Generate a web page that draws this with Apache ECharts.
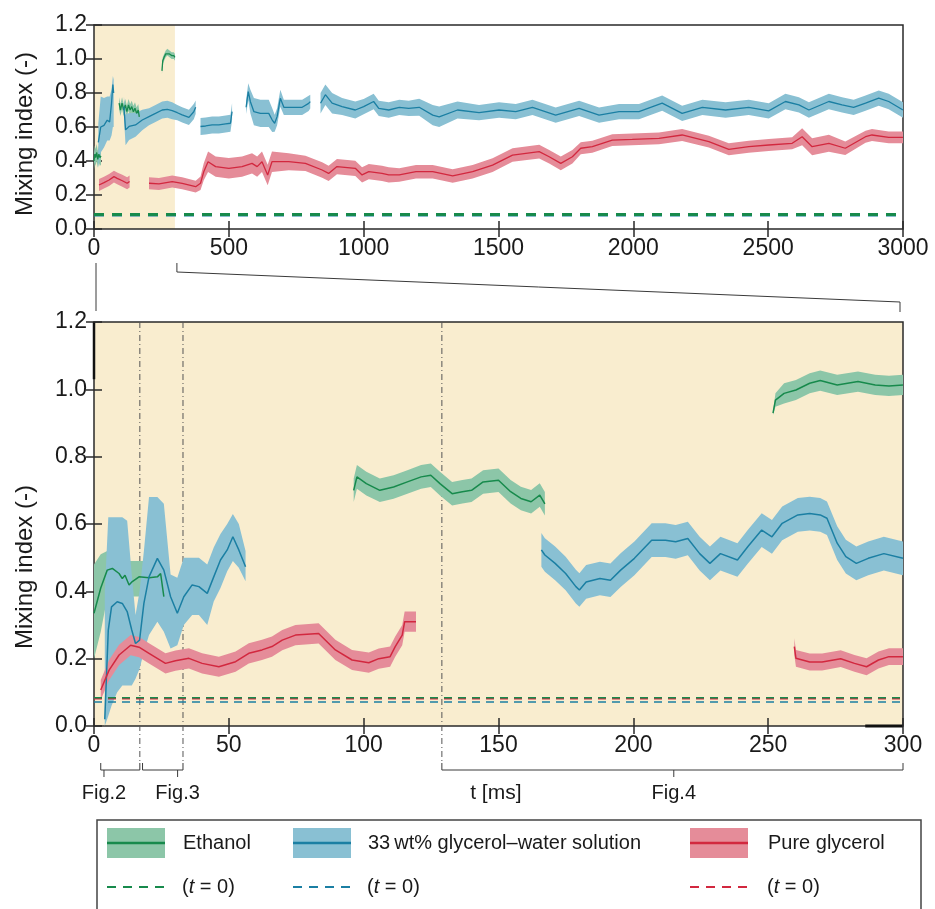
<!DOCTYPE html>
<html><head><meta charset="utf-8">
<script src="https://cdn.jsdelivr.net/npm/echarts@6/dist/echarts.min.js"></script>
<style>html,body{margin:0;padding:0;background:#fff}#c{width:935px;height:909px}</style>
</head><body><div id="c"></div><script>
// ---------------- DATA ----------------
// Axis ranges / ticks
const TOP_X = [0, 3000, 500];
const BOT_X = [0, 300, 50];
const Y_RANGE = [0, 1.2, 0.2];
const SHADE_TOP = [0, 300];
const SHADE_BOT = [0, 300];
// t = 0 reference values
const T0_ETH = 0.085, T0_GLY = 0.083, T0_PURE = 0.085;
const T0_ETH_Z = 0.084, T0_GLY_Z = 0.071, T0_PURE_Z = 0.081;

// ---- Top chart (0-3000 ms) ----
const topEthA_T = [0, 3, 6, 10, 14, 18, 22, 26];
const topEthA_M = [0.40, 0.44, 0.42, 0.45, 0.41, 0.44, 0.42, 0.43];
const topEthA_W = 0.05;
const topEthB_T = [93, 98, 104, 110, 116, 122, 128, 134, 140, 146, 152, 158, 164, 168];
const topEthB_M = [0.74, 0.70, 0.74, 0.70, 0.73, 0.69, 0.73, 0.70, 0.72, 0.69, 0.71, 0.68, 0.70, 0.66];
const topEthB_W = 0.035;
const topEthC_T = [252, 255, 260, 266, 272, 280, 288, 296, 300];
const topEthC_M = [0.93, 0.99, 1.01, 1.03, 1.04, 1.03, 1.02, 1.02, 1.01];
const topEthC_W = 0.02;

const topGlyA_T = [16, 25, 37, 49, 58, 65, 70, 73];
const topGlyA_M = [0.51, 0.60, 0.61, 0.64, 0.63, 0.74, 0.85, 0.80];
const topGlyA_LO = [0.36, 0.45, 0.48, 0.52, 0.52, 0.55, 0.60, 0.60];
const topGlyA_HI = [0.62, 0.78, 0.77, 0.78, 0.78, 0.82, 0.90, 0.88];
const topGlyB_T = [111, 117, 130, 154, 179, 204, 228, 253, 272, 290, 309, 327, 352, 370, 377];
const topGlyB_M = [0.72, 0.583, 0.603, 0.612, 0.641, 0.661, 0.68, 0.70, 0.704, 0.696, 0.684, 0.671, 0.657, 0.69, 0.716];
const topGlyB_W = [0.06, 0.09, 0.08, 0.07, 0.06, 0.05, 0.05, 0.05, 0.05, 0.05, 0.045, 0.045, 0.045, 0.045, 0.04];
const topGlyC_T = [395, 414, 438, 463, 488, 506, 512];
const topGlyC_M = [0.603, 0.606, 0.612, 0.612, 0.618, 0.622, 0.69];
const topGlyC_W = 0.05;
const topGlyD_T = [564, 572, 580, 593, 617, 648, 661, 670, 679, 691, 704, 735, 772, 796, 802];
const topGlyD_M = [0.716, 0.808, 0.749, 0.69, 0.68, 0.68, 0.641, 0.622, 0.661, 0.769, 0.716, 0.716, 0.716, 0.739, 0.749];
const topGlyD_W = [0.04, 0.05, 0.07, 0.08, 0.08, 0.08, 0.07, 0.05, 0.05, 0.05, 0.045, 0.045, 0.045, 0.045, 0.04];
const topGlyE_T = [840, 858, 883, 920, 969, 1000, 1037, 1056, 1093, 1132, 1167, 1206, 1256, 1280, 1348, 1428, 1502, 1564, 1626, 1712, 1799, 1873, 1947, 2021, 2107, 2181, 2256, 2342, 2428, 2502, 2564, 2614, 2651, 2725, 2774, 2817, 2861, 2910, 2947, 3000];
const topGlyE_M = [0.74, 0.79, 0.74, 0.72, 0.70, 0.72, 0.75, 0.71, 0.70, 0.716, 0.71, 0.716, 0.67, 0.66, 0.70, 0.685, 0.70, 0.69, 0.716, 0.67, 0.71, 0.67, 0.69, 0.69, 0.74, 0.68, 0.716, 0.70, 0.716, 0.695, 0.75, 0.73, 0.70, 0.75, 0.73, 0.716, 0.74, 0.77, 0.75, 0.70];
const topGlyE_W = [0.06, 0.06, 0.06, 0.05, 0.05, 0.045, 0.045, 0.045, 0.045, 0.045, 0.045, 0.05, 0.06, 0.06, 0.05, 0.045, 0.045, 0.045, 0.045, 0.045, 0.045, 0.045, 0.045, 0.045, 0.045, 0.045, 0.045, 0.045, 0.045, 0.045, 0.045, 0.045, 0.045, 0.045, 0.045, 0.045, 0.045, 0.045, 0.045, 0.045];

const topPureA_T = [18.5, 37, 56, 74, 86, 105, 123, 132];
const topPureA_M = [0.259, 0.273, 0.288, 0.308, 0.298, 0.284, 0.269, 0.279];
const topPureA_W = 0.035;
const topPureB_T = [204, 241, 290, 327, 377, 395, 407, 423, 451, 500, 549, 586, 605, 623, 644, 660, 722, 784, 846, 870, 901, 969, 994, 1019, 1068, 1093, 1132, 1194, 1256, 1330, 1404, 1478, 1552, 1651, 1688, 1731, 1774, 1805, 1848, 1922, 1996, 2095, 2181, 2280, 2354, 2428, 2502, 2589, 2626, 2663, 2725, 2786, 2861, 2885, 2947, 3000];
const topPureB_M = [0.269, 0.265, 0.279, 0.269, 0.249, 0.269, 0.337, 0.396, 0.367, 0.357, 0.367, 0.386, 0.367, 0.396, 0.318, 0.396, 0.396, 0.386, 0.347, 0.327, 0.367, 0.357, 0.318, 0.337, 0.327, 0.318, 0.318, 0.337, 0.337, 0.312, 0.337, 0.376, 0.435, 0.455, 0.425, 0.386, 0.425, 0.475, 0.484, 0.523, 0.527, 0.533, 0.553, 0.514, 0.469, 0.484, 0.494, 0.504, 0.543, 0.484, 0.504, 0.475, 0.543, 0.553, 0.539, 0.539];
const topPureB_W = [0.035, 0.035, 0.035, 0.035, 0.035, 0.04, 0.05, 0.06, 0.06, 0.06, 0.06, 0.06, 0.06, 0.06, 0.06, 0.06, 0.05, 0.045, 0.045, 0.045, 0.045, 0.045, 0.045, 0.045, 0.045, 0.045, 0.04, 0.04, 0.04, 0.04, 0.04, 0.04, 0.04, 0.04, 0.04, 0.04, 0.04, 0.035, 0.035, 0.035, 0.035, 0.035, 0.035, 0.035, 0.035, 0.035, 0.035, 0.035, 0.05, 0.05, 0.05, 0.04, 0.035, 0.035, 0.035, 0.035];

// ---- Bottom chart (0-300 ms) ----
const zEth1_T = [0, 2.5, 4.9, 6.8, 9.3, 10.5, 11.5, 13, 14.2, 16.7, 20.4, 23.5, 24.7, 25.9];
const zEth1_M = [0.335, 0.41, 0.463, 0.468, 0.453, 0.438, 0.448, 0.419, 0.429, 0.443, 0.44, 0.443, 0.453, 0.384];
const zEth1_LO = [0.2, 0.28, 0.38, 0.39, 0.39, 0.385, 0.385, 0.385, 0.385, 0.385, 0.385, 0.385, 0.385, 0.37];
const zEth1_HI = [0.48, 0.51, 0.52, 0.53, 0.54, 0.5, 0.49, 0.49, 0.49, 0.49, 0.49, 0.49, 0.49, 0.48];
const zEth2_T = [96.3, 97.5, 101, 106, 111.1, 116.2, 121.3, 124.9, 128.3, 132.8, 136.6, 140, 144.3, 150, 154.5, 158.3, 162.1, 165.3, 167.2];
const zEth2_M = [0.70, 0.74, 0.72, 0.70, 0.71, 0.725, 0.74, 0.745, 0.72, 0.69, 0.696, 0.70, 0.725, 0.73, 0.696, 0.676, 0.666, 0.686, 0.66];
const zEth2_W = 0.035;
const zEth3_T = [251.8, 252.7, 255.9, 260.3, 265.4, 269.3, 275.6, 283.3, 289.7, 294.8, 300];
const zEth3_M = [0.929, 0.968, 0.988, 0.998, 1.018, 1.026, 1.013, 1.023, 1.013, 1.01, 1.013];
const zEth3_W = [0.005, 0.02, 0.03, 0.03, 0.03, 0.03, 0.03, 0.03, 0.03, 0.03, 0.03];

const zGly1_T = [4, 5.3, 6.5, 8.6, 10.5, 12.3, 14, 15.4, 16.9, 18.5, 20.4, 23.5, 25.9, 28.4, 30.9, 33.3, 36.4, 38.9, 42, 44.4, 46.9, 49.4, 51.5, 53.7, 56.2];
const zGly1_M = [0.02, 0.285, 0.354, 0.369, 0.364, 0.34, 0.285, 0.245, 0.255, 0.364, 0.443, 0.498, 0.463, 0.384, 0.335, 0.384, 0.419, 0.414, 0.394, 0.443, 0.493, 0.523, 0.562, 0.523, 0.473];
const zGly1_LO = [0.0, 0.03, 0.06, 0.1, 0.12, 0.12, 0.12, 0.14, 0.17, 0.22, 0.27, 0.31, 0.28, 0.23, 0.24, 0.3, 0.33, 0.33, 0.3, 0.37, 0.41, 0.46, 0.49, 0.47, 0.43];
const zGly1_HI = [0.4, 0.62, 0.62, 0.62, 0.62, 0.61, 0.45, 0.33, 0.4, 0.52, 0.68, 0.68, 0.66, 0.45, 0.44, 0.5, 0.5, 0.5, 0.48, 0.53, 0.57, 0.6, 0.63, 0.6, 0.52];
const zGly2_T = [165.9, 167.2, 171, 174.9, 178.7, 180, 182.5, 187.6, 191.5, 195.3, 200.4, 206.8, 211.9, 215.7, 220.2, 224.6, 228.4, 232.3, 238.6, 242.5, 247.6, 251.4, 255.2, 261, 265.4, 269.3, 271.8, 275.6, 278.8, 282.7, 287.1, 292.9, 300];
const zGly2_M = [0.523, 0.508, 0.483, 0.453, 0.414, 0.404, 0.428, 0.438, 0.433, 0.463, 0.498, 0.552, 0.552, 0.547, 0.557, 0.512, 0.483, 0.512, 0.493, 0.533, 0.582, 0.562, 0.602, 0.627, 0.631, 0.627, 0.617, 0.543, 0.503, 0.483, 0.498, 0.512, 0.498];
const zGly2_W = 0.05;

const zPure1_T = [2.5, 5.6, 9.3, 13.6, 16.7, 20.4, 26.5, 30.2, 35.2, 40.1, 46.3, 52.5, 57.4, 62.3, 66, 69.8, 74.7, 83.3, 89.5, 95.7, 101.9, 105.6, 109.8, 111.7, 114.3, 115.2, 119.4];
const zPure1_M = [0.107, 0.166, 0.211, 0.24, 0.234, 0.216, 0.186, 0.194, 0.201, 0.186, 0.176, 0.191, 0.216, 0.226, 0.236, 0.255, 0.27, 0.275, 0.226, 0.196, 0.188, 0.2, 0.206, 0.236, 0.27, 0.31, 0.31];
const zPure1_W = 0.03;
const zPure2_T = [259.7, 260.3, 265.4, 270, 276.9, 282, 286.5, 290.9, 294.8, 300];
const zPure2_M = [0.236, 0.201, 0.19, 0.19, 0.2, 0.186, 0.176, 0.196, 0.206, 0.206];
const zPure2_W = 0.025;

// annotation positions (ms)
const VLINES = [17, 33, 129];
const BRACKET_LABELS = ['Fig.2', 'Fig.3', 'Fig.4'];
const BRACKET_FROM = [2.5, 18, 129];
const BRACKET_TO = [17, 33, 300];
const BRACKET_STEM = [3.7, 31, 215];
const XNAME = 't [ms]';
const XNAME_AT = 149;
const YNAME = 'Mixing index (-)';
const LEGEND_NAMES = ['Ethanol', '33\u2009wt% glycerol\u2013water solution', 'Pure glycerol'];

// ---------------- STYLE ----------------
const C = {
  eth: {line: '#178a4c', band: '#8cc6a8'},
  gly: {line: '#1b7fa3', band: '#89c0d3'},
  pure: {line: '#d2283f', band: '#e58c99'},
  shade: '#f9edcf', axis: '#2a2a2a', text: '#1a1a1a'
};
const FONT = "'Liberation Sans', Arial, Helvetica, sans-serif";

function mk(t, m, w, lo, hi) {
  const W = i => Array.isArray(w) ? w[i] : w;
  return {t, m,
    lo: lo || m.map((v, i) => v - W(i)),
    hi: hi || m.map((v, i) => v + W(i))};
}

const TOP = {
  eth: [mk(topEthA_T, topEthA_M, topEthA_W), mk(topEthB_T, topEthB_M, topEthB_W), mk(topEthC_T, topEthC_M, topEthC_W)],
  gly: [mk(topGlyA_T, topGlyA_M, 0, topGlyA_LO, topGlyA_HI), mk(topGlyB_T, topGlyB_M, topGlyB_W), mk(topGlyC_T, topGlyC_M, topGlyC_W), mk(topGlyD_T, topGlyD_M, topGlyD_W), mk(topGlyE_T, topGlyE_M, topGlyE_W)],
  pure: [mk(topPureA_T, topPureA_M, topPureA_W), mk(topPureB_T, topPureB_M, topPureB_W)]
};
const BOT = {
  eth: [mk(zEth1_T, zEth1_M, 0, zEth1_LO, zEth1_HI), mk(zEth2_T, zEth2_M, zEth2_W), mk(zEth3_T, zEth3_M, zEth3_W)],
  gly: [mk(zGly1_T, zGly1_M, 0, zGly1_LO, zGly1_HI), mk(zGly2_T, zGly2_M, zGly2_W)],
  pure: [mk(zPure1_T, zPure1_M, zPure1_W), mk(zPure2_T, zPure2_M, zPure2_W)]
};

function shadeSeries(range, ai) {
  return {type: 'custom', xAxisIndex: ai, yAxisIndex: ai, silent: true, z: -1, clip: true,
    data: [[range[0], Y_RANGE[1], range[1], Y_RANGE[0]]], encode: {x: [0, 2], y: [1, 3]},
    renderItem: (p, api) => {
      const a = api.coord([api.value(0), api.value(1)]);
      const b = api.coord([api.value(2), api.value(3)]);
      return {type: 'rect', shape: {x: a[0], y: a[1], width: b[0] - a[0], height: b[1] - a[1]}, style: {fill: C.shade}};
    }};
}
function bandSeries(segs, color, ai) {
  return {type: 'custom', xAxisIndex: ai, yAxisIndex: ai, silent: true, clip: true, z: 2,
    data: segs.map((s, i) => [s.t[0], s.m[0], i]), encode: {x: 0, y: 1},
    renderItem: (p, api) => {
      const s = segs[api.value(2)];
      const pts = [];
      for (let i = 0; i < s.t.length; i++) pts.push(api.coord([s.t[i], s.hi[i]]));
      for (let i = s.t.length - 1; i >= 0; i--) pts.push(api.coord([s.t[i], s.lo[i]]));
      return {type: 'polygon', shape: {points: pts}, style: {fill: color}};
    }};
}
function lineSeries(s, color, ai, w) {
  return {type: 'line', xAxisIndex: ai, yAxisIndex: ai, silent: true, z: 4, symbol: 'none',
    data: s.t.map((t, i) => [t, s.m[i]]), lineStyle: {color, width: w}};
}
function t0Series(v, xmax, color, ai, w, dash) {
  return {type: 'line', xAxisIndex: ai, yAxisIndex: ai, silent: true, z: 3, symbol: 'none',
    data: [[0, v], [xmax, v]], lineStyle: {color, width: w, type: dash}};
}

function xAxes(gi, r, pos, label) {
  return {gridIndex: gi, type: 'value', position: pos, min: r[0], max: r[1], interval: r[2],
    axisLine: {show: false}, splitLine: {show: false},
    axisTick: {show: true, inside: true, length: 8, lineStyle: {color: C.axis, width: 1.5}},
    axisLabel: {show: label, fontSize: 23, color: C.text, fontFamily: FONT, margin: 8, formatter: v => String(v)}};
}
function yAxes(gi, pos, label) {
  return {gridIndex: gi, type: 'value', position: pos, min: Y_RANGE[0], max: Y_RANGE[1], interval: Y_RANGE[2],
    axisLine: {show: false}, splitLine: {show: false},
    axisTick: {show: true, inside: true, length: 8, lineStyle: {color: C.axis, width: 1.5}},
    axisLabel: {show: label, fontSize: 23, color: C.text, fontFamily: FONT, margin: 7, formatter: v => v.toFixed(1)}};
}

const series = [];
series.push(shadeSeries(SHADE_TOP, 0));
series.push(bandSeries(TOP.eth, C.eth.band, 0));
series.push(bandSeries(TOP.gly, C.gly.band, 0));
series.push(bandSeries(TOP.pure, C.pure.band, 0));
series.push(t0Series(T0_GLY, TOP_X[1], C.gly.line, 0, 3, [10, 8]));
series.push(t0Series(T0_PURE, TOP_X[1], C.pure.line, 0, 3, [10, 8]));
series.push(t0Series(T0_ETH, TOP_X[1], C.eth.line, 0, 3, [10, 8]));
TOP.eth.forEach(s => series.push(lineSeries(s, C.eth.line, 0, 1.3)));
TOP.gly.forEach(s => series.push(lineSeries(s, C.gly.line, 0, 1.3)));
TOP.pure.forEach(s => series.push(lineSeries(s, C.pure.line, 0, 1.3)));

series.push(shadeSeries(SHADE_BOT, 2));
series.push(bandSeries(BOT.eth, C.eth.band, 2));
series.push(bandSeries(BOT.gly, C.gly.band, 2));
series.push(bandSeries(BOT.pure, C.pure.band, 2));
series.push(t0Series(T0_GLY_Z, BOT_X[1], C.gly.line, 2, 1.5, [8, 6]));
series.push(t0Series(T0_PURE_Z, BOT_X[1], C.pure.line, 2, 1.5, [8, 6]));
series.push(t0Series(T0_ETH_Z, BOT_X[1], C.eth.line, 2, 1.5, [8, 6]));
BOT.eth.forEach(s => series.push(lineSeries(s, C.eth.line, 2, 1.5)));
BOT.gly.forEach(s => series.push(lineSeries(s, C.gly.line, 2, 1.5)));
BOT.pure.forEach(s => series.push(lineSeries(s, C.pure.line, 2, 1.5)));

const chart = echarts.init(document.getElementById('c'), null, {renderer: 'canvas'});
chart.setOption({
  animation: false,
  backgroundColor: '#ffffff',
  grid: [
    {left: 94, top: 25, width: 809, height: 204, show: true, borderColor: C.axis, borderWidth: 1.5, backgroundColor: 'transparent'},
    {left: 94, top: 322, width: 809, height: 404, show: true, borderColor: C.axis, borderWidth: 1.5, backgroundColor: 'transparent'}
  ],
  xAxis: [xAxes(0, TOP_X, 'bottom', true), xAxes(0, TOP_X, 'top', false), xAxes(1, BOT_X, 'bottom', true), xAxes(1, BOT_X, 'top', false)],
  yAxis: [yAxes(0, 'left', true), yAxes(0, 'right', false), yAxes(1, 'left', true), yAxes(1, 'right', false)],
  series
});

// ---------------- ANNOTATIONS ----------------
const px = (gi, x, y) => chart.convertToPixel({gridIndex: gi}, [x, y]);
const g = [];
const topX0 = px(0, 0, 0)[0], topX300 = px(0, SHADE_TOP[1], 0)[0];
const botTop = px(1, 0, Y_RANGE[1])[1], botRight = px(1, BOT_X[1], 0)[0], botBottom = px(1, 0, 0)[1];
const line = (pts, extra) => Object.assign({type: 'polyline', silent: true, shape: {points: pts}, style: Object.assign({stroke: '#3a3a3a', lineWidth: 1, fill: null}, extra || {})});

// zoom connectors
g.push(line([[topX0 + 2, 263], [topX0 + 2, 311]]));
g.push(line([[topX300 + 2, 263], [topX300 + 2, 272], [botRight - 3, 302], [botRight - 3, 312]]));
// thick edge segments seen on the bottom panel frame
g.push(line([[px(1, 286, 0)[0], botBottom], [botRight, botBottom]], {stroke: '#111', lineWidth: 3}));
g.push(line([[px(1, 0, 0)[0], botTop], [px(1, 0, 1.03)[0], px(1, 0, 1.03)[1]]], {stroke: '#111', lineWidth: 2.5}));
// dash-dot verticals
VLINES.forEach(t => {
  const x = px(1, t, 0)[0];
  g.push(line([[x, botTop], [x, 762]], {stroke: '#555', lineDash: [6, 3, 1, 3]}));
});
// brackets
BRACKET_LABELS.forEach((lab, i) => {
  const a = px(1, BRACKET_FROM[i], 0)[0], b = px(1, BRACKET_TO[i], 0)[0], s = px(1, BRACKET_STEM[i], 0)[0];
  g.push(line([[a, 763], [a, 770], [b, 770], [b, 763]]));
  g.push(line([[s, 770], [s, 777]]));
  g.push({type: 'text', silent: true, x: s, y: 793, style: {text: lab, fontSize: 20, fontFamily: FONT, fill: C.text, align: 'center', verticalAlign: 'middle'}});
});
g.push({type: 'text', silent: true, x: px(1, XNAME_AT, 0)[0], y: 793, style: {text: XNAME, fontSize: 21, fontFamily: FONT, fill: C.text, align: 'center', verticalAlign: 'middle'}});
// y-axis names
g.push({type: 'text', silent: true, x: 25, y: 134, rotation: Math.PI / 2, style: {text: YNAME, fontSize: 24, fontFamily: FONT, fill: C.text, align: 'center', verticalAlign: 'middle'}});
g.push({type: 'text', silent: true, x: 25, y: 567, rotation: Math.PI / 2, style: {text: YNAME, fontSize: 24, fontFamily: FONT, fill: C.text, align: 'center', verticalAlign: 'middle'}});
// legend
g.push({type: 'rect', silent: true, shape: {x: 97, y: 820, width: 824, height: 110}, style: {fill: '#fff', stroke: '#444', lineWidth: 1.5}});
const LX = [107, 293, 690], TX = [183, 368, 768];
[C.eth, C.gly, C.pure].forEach((c, i) => {
  g.push({type: 'rect', silent: true, shape: {x: LX[i], y: 828, width: 58, height: 30}, style: {fill: c.band}});
  g.push(line([[LX[i], 843], [LX[i] + 58, 843]], {stroke: c.line, lineWidth: 2.5}));
  g.push({type: 'text', silent: true, x: TX[i], y: 843, style: {text: LEGEND_NAMES[i], fontSize: 20, fontFamily: FONT, fill: C.text, verticalAlign: 'middle'}});
  g.push(line([[LX[i], 887], [LX[i] + 58, 887]], {stroke: c.line, lineWidth: 2, lineDash: [9, 7]}));
  g.push({type: 'text', silent: true, x: TX[i] - 1, y: 887, style: {
    text: '(' + '{i|t}' + ' = 0)', fontSize: 20, fontFamily: FONT, fill: C.text, verticalAlign: 'middle',
    rich: {i: {fontStyle: 'italic', fontSize: 20, fontFamily: FONT, fill: C.text}}}});
});
chart.setOption({graphic: {elements: g}});
</script></body></html>
